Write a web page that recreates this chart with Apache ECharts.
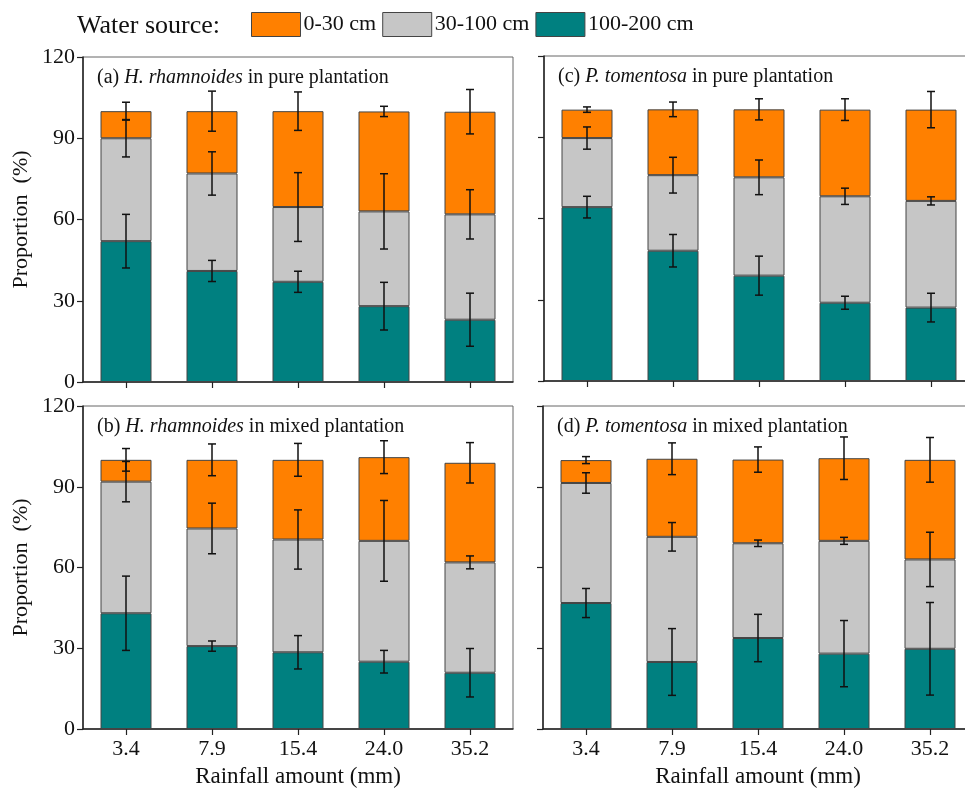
<!DOCTYPE html>
<html>
<head>
<meta charset="utf-8">
<script src="https://cdn.jsdelivr.net/npm/echarts@6/dist/echarts.min.js"></script>
<style>
  html, body { margin: 0; padding: 0; background: #fff; overflow: hidden; }
  #chart { width: 990px; height: 792px; }
</style>
</head>
<body>
<div id="chart"></div>
<script>
const rainfall = ['3.4', '7.9', '15.4', '24.0', '35.2']
const sources = ['100-200 cm', '30-100 cm', '0-30 cm']
const sourceColors = ['#008080', '#C6C6C6', '#FF8000']

// (a) H. rhamnoides, pure plantation
const aDeep = [52, 41, 37, 28, 23]
const aMid = [38, 36, 27.6, 35, 38.9]
const aShallow = [10, 23, 35.4, 36.9, 37.9]
const aDeepSd = [9.9, 3.9, 3.9, 8.8, 9.8]
const aMidSd = [6.9, 8, 12.7, 13.9, 9.1]
const aShallowSd = [3.3, 7.4, 7.1, 1.9, 8.2]

// (b) H. rhamnoides, mixed plantation
const bDeep = [43, 30.8, 28.5, 25, 20.9]
const bMid = [48.9, 43.7, 41.9, 44.9, 41]
const bShallow = [8.1, 25.5, 29.6, 31.1, 37]
const bDeepSd = [13.8, 1.9, 6.2, 4.2, 9]
const bMidSd = [7.5, 9.4, 11, 15, 2.4]
const bShallowSd = [4.2, 5.9, 6.1, 6.1, 7.5]

// (c) P. tomentosa, pure plantation
const cDeep = [64.2, 48.1, 38.9, 28.9, 27.1]
const cMid = [25.5, 27.9, 36.3, 39.3, 39.4]
const cShallow = [10.5, 24.3, 25.1, 32, 33.7]
const cDeepSd = [4, 6, 7.2, 2.4, 5.3]
const cMidSd = [4.1, 6.6, 6.4, 3, 1.5]
const cShallowSd = [1, 2.7, 3.9, 4, 6.7]

// (d) P. tomentosa, mixed plantation
const dDeep = [46.8, 24.9, 33.8, 28, 29.8]
const dMid = [44.6, 46.5, 35.2, 41.9, 33.2]
const dShallow = [8.5, 29, 31.1, 30.7, 37]
const dDeepSd = [5.4, 12.4, 8.8, 12.3, 17.2]
const dMidSd = [3.8, 5.3, 1.2, 1.3, 10.1]
const dShallowSd = [1.3, 5.9, 4.7, 7.9, 8.3]

const yTicks = [0, 30, 60, 90, 120]

const panels = [
    { tag: '(a) ', sp: 'H. rhamnoides', rest: ' in pure plantation', layers: [aDeep, aMid, aShallow], sds: [aDeepSd, aMidSd, aShallowSd], grid: { left: 83, top: 57, width: 430, height: 325 }, yLabels: true, xLabels: false },
    { tag: '(b) ', sp: 'H. rhamnoides', rest: ' in mixed plantation', layers: [bDeep, bMid, bShallow], sds: [bDeepSd, bMidSd, bShallowSd], grid: { left: 83, top: 406, width: 430, height: 323 }, yLabels: true, xLabels: true },
    { tag: '(c) ', sp: 'P. tomentosa', rest: ' in pure plantation', layers: [cDeep, cMid, cShallow], sds: [cDeepSd, cMidSd, cShallowSd], grid: { left: 544, top: 56, width: 430, height: 325 }, yLabels: false, xLabels: false },
    { tag: '(d) ', sp: 'P. tomentosa', rest: ' in mixed plantation', layers: [dDeep, dMid, dShallow], sds: [dDeepSd, dMidSd, dShallowSd], grid: { left: 543, top: 406, width: 430, height: 323 }, yLabels: false, xLabels: true }
]

const font = '"Liberation Serif", "Times New Roman", serif'

const grids = []
const xAxes = []
const yAxes = []
const series = []
const graphics = []

panels.forEach((p, i) => {
    grids.push(Object.assign({ show: true, borderColor: '#666', borderWidth: 1, backgroundColor: 'transparent' }, p.grid))

    xAxes.push({
        type: 'category',
        gridIndex: i,
        data: rainfall,
        axisLine: { lineStyle: { color: '#222', width: 1.5 } },
        axisTick: { show: true, alignWithLabel: true, length: 6, lineStyle: { color: '#222', width: 1.2 } },
        axisLabel: { show: p.xLabels, color: '#111', fontFamily: font, fontSize: 22, margin: 9 },
        name: p.xLabels ? 'Rainfall amount (mm)' : '',
        nameLocation: 'middle',
        nameGap: 36,
        nameTextStyle: { color: '#111', fontFamily: font, fontSize: 23 }
    })

    yAxes.push({
        type: 'value',
        gridIndex: i,
        min: yTicks[0],
        max: yTicks[yTicks.length - 1],
        interval: 30,
        splitLine: { show: false },
        axisLine: { show: true, lineStyle: { color: '#222', width: 1.5 } },
        axisTick: { show: true, length: 6, lineStyle: { color: '#222', width: 1.2 } },
        axisLabel: { show: p.yLabels, color: '#111', fontFamily: font, fontSize: 22, margin: 8 },
        name: p.yLabels ? 'Proportion  (%)' : '',
        nameLocation: 'middle',
        nameGap: 51,
        nameTextStyle: { color: '#111', fontFamily: font, fontSize: 22 }
    })

    p.layers.forEach((vals, k) => {
        series.push({
            type: 'bar',
            name: sources[k],
            xAxisIndex: i,
            yAxisIndex: i,
            stack: 'panel' + i,
            barWidth: 51,
            data: vals,
            itemStyle: { color: sourceColors[k], borderColor: '#444', borderWidth: 1 },
            z: 2
        })
    })

    // error bars sit at the cumulative top of each layer
    const errData = []
    rainfall.forEach((c, j) => {
        let top = 0
        p.layers.forEach((vals, k) => {
            top += vals[j]
            errData.push([j, top, p.sds[k][j]])
        })
    })
    series.push({
        type: 'custom',
        xAxisIndex: i,
        yAxisIndex: i,
        z: 5,
        silent: true,
        data: errData,
        renderItem: (params, api) => {
            const x = api.value(0)
            const y = api.value(1)
            const sd = api.value(2)
            const hi = api.coord([x, y + sd])
            const lo = api.coord([x, y - sd])
            const cap = 4
            const style = { stroke: '#111', lineWidth: 1.5 }
            return {
                type: 'group',
                children: [
                    { type: 'line', shape: { x1: hi[0], y1: hi[1], x2: lo[0], y2: lo[1] }, style },
                    { type: 'line', shape: { x1: hi[0] - cap, y1: hi[1], x2: hi[0] + cap, y2: hi[1] }, style },
                    { type: 'line', shape: { x1: lo[0] - cap, y1: lo[1], x2: lo[0] + cap, y2: lo[1] }, style }
                ]
            }
        }
    })

    graphics.push({
        type: 'text',
        left: p.grid.left + 14,
        top: p.grid.top + 11,
        style: {
            text: p.tag + '{i|' + p.sp + '}' + p.rest,
            fill: '#111',
            font: '20px ' + font,
            rich: { i: { fontStyle: 'italic', fontFamily: font, fontSize: 20, fill: '#111' } }
        }
    })
})

const chart = echarts.init(document.getElementById('chart'))
chart.setOption({
    animation: false,
    backgroundColor: '#fff',
    title: {
        text: 'Water source:',
        left: 72,
        top: 8,
        textStyle: { color: '#111', fontFamily: font, fontSize: 26, fontWeight: 'normal' }
    },
    legend: {
        data: ['0-30 cm', '30-100 cm', '100-200 cm'],
        left: 246,
        top: 7,
        icon: 'rect',
        itemWidth: 49,
        itemHeight: 24,
        itemGap: 6,
        selectedMode: false,
        itemStyle: { borderColor: '#444', borderWidth: 1 },
        textStyle: { color: '#111', fontFamily: font, fontSize: 22, padding: [0, 0, 0, -2] }
    },
    grid: grids,
    xAxis: xAxes,
    yAxis: yAxes,
    series: series,
    graphic: graphics
})
</script>
</body>
</html>
